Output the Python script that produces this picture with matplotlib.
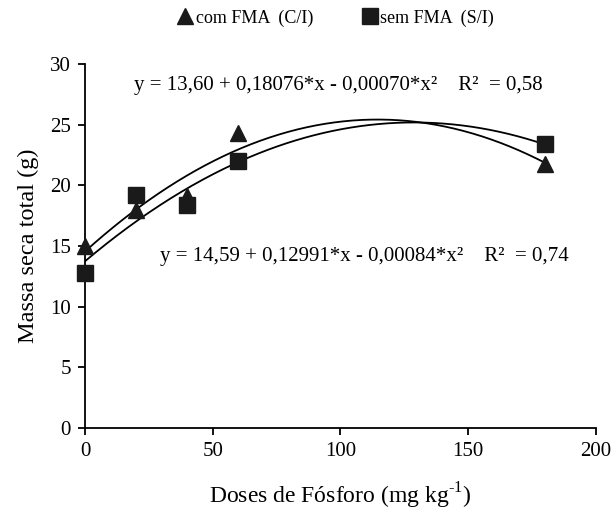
import numpy as np
import matplotlib
matplotlib.use("Agg")
import matplotlib.pyplot as plt
from matplotlib.lines import Line2D

plt.rcParams['font.family'] = ['Liberation Serif', 'DejaVu Serif']
plt.rcParams['mathtext.fontset'] = 'custom'
plt.rcParams['mathtext.rm'] = 'Liberation Serif'

doses = [0, 20, 40, 60, 180]
com_fma = [15.0, 18.0, 19.1, 24.3, 21.8]
sem_fma = [12.8, 19.2, 18.4, 22.0, 23.4]
labels = ["com FMA  (C/I)", "sem FMA  (S/I)"]
eq_top = "y = 13,60 + 0,18076*x - 0,00070*x²    R²  = 0,58"
eq_bottom = "y = 14,59 + 0,12991*x - 0,00084*x²    R²  = 0,74"

fig = plt.figure(figsize=(6.14, 5.12), dpi=100)
ax = fig.add_axes([0.1384, 0.164, 0.8322, 0.711])

xs = np.linspace(0, 180, 300)
for ys in (com_fma, sem_fma):
    c = np.polyfit(doses, ys, 2)
    ax.plot(xs, np.polyval(c, xs), color='black', lw=1.3, zorder=2)

ax.plot(doses, com_fma, linestyle='none', marker='^', ms=12, color='#1a1a1a', zorder=3, clip_on=False)
ax.plot(doses, sem_fma, linestyle='none', marker='s', ms=11.5, color='#1a1a1a', zorder=3, clip_on=False)

ax.set_xlim(0, 200)
ax.set_ylim(0, 30)
ax.set_xticks([0, 50, 100, 150, 200])
ax.set_yticks([0, 5, 10, 15, 20, 25, 30])
ax.spines['top'].set_visible(False)
ax.spines['right'].set_visible(False)
for s in ('left', 'bottom'):
    ax.spines[s].set_linewidth(1.3)
ax.tick_params(axis='both', direction='out', length=5, width=1.3, labelsize=15, pad=5)

ax.set_xlabel("Doses de Fósforo (mg kg$^{\\mathregular{\u2010}1}$)", fontsize=17, labelpad=14)
ax.set_ylabel("Massa seca total (g)", fontsize=17.5, labelpad=8)

ax.text(19.0, 28.2, eq_top, fontsize=15, va='center', ha='left')
ax.text(29.5, 14.1, eq_bottom, fontsize=15, va='center', ha='left')

handles = [Line2D([], [], linestyle='none', marker='^', ms=11, color='#1a1a1a'),
           Line2D([], [], linestyle='none', marker='s', ms=11, color='#1a1a1a')]
fig.legend(handles, labels, loc='center', bbox_to_anchor=(0.546, 0.965), ncol=2,
           frameon=False, fontsize=13, handletextpad=0.1, columnspacing=2.6,
           handlelength=1.0)

fig.savefig("out.png", dpi=100)
